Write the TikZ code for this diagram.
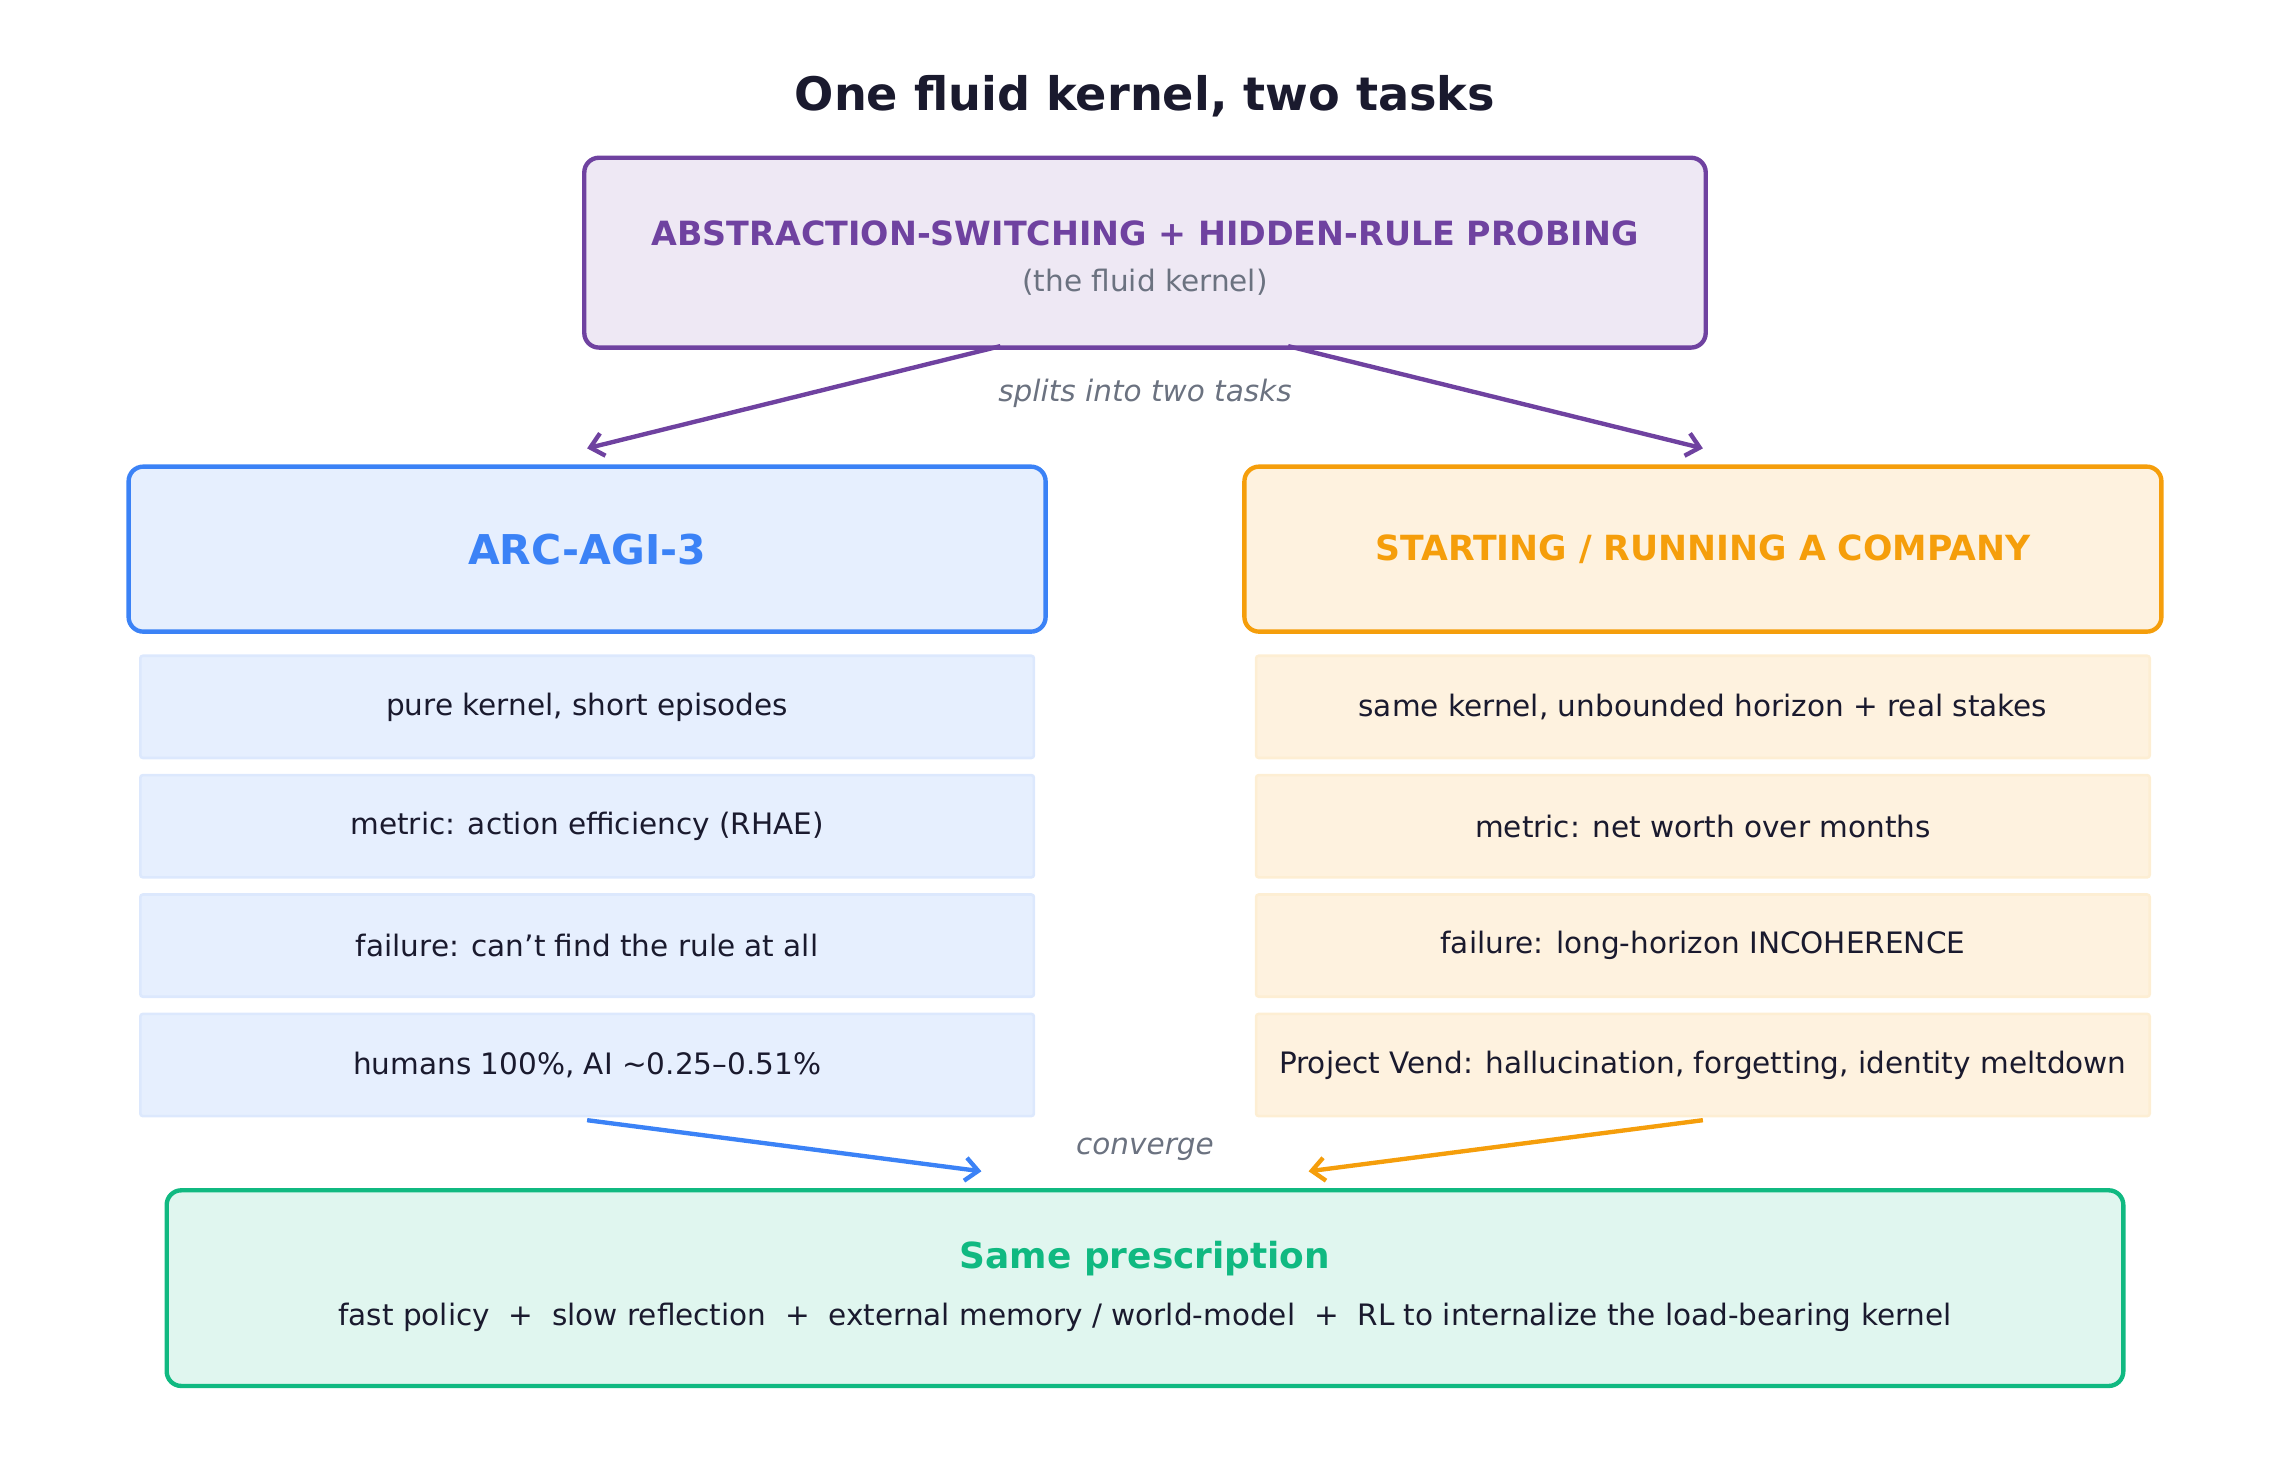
\documentclass[tikz,border=0pt]{standalone}
\usepackage{fontspec}
\setmainfont{DejaVu Sans}
\usetikzlibrary{arrows.meta,positioning}
\definecolor{ink}{HTML}{1A1A2E}
\definecolor{kgray}{HTML}{6B7280}
\definecolor{kpurple}{HTML}{6F42A0}
\definecolor{kblue}{HTML}{3B82F6}
\definecolor{korange}{HTML}{F59E0B}
\definecolor{kgreen}{HTML}{10B981}
\tikzset{
  >={Straight Barb[length=5pt,width=9pt]},
  panel/.style={
    rectangle,
    rounded corners=0.2cm,
    line width=1.7pt,
    text centered,
    align=center},
  item/.style={
    rectangle,
    rounded corners=1pt,
    line width=1pt,
    minimum width=12.24cm,
    minimum height=1.4cm,
    text=ink,
    font=\fontsize{11.5}{14}\selectfont},
  flow/.style={->, line width=1.7pt},
  note/.style={text=kgray, font=\fontsize{11.5}{14}\selectfont\itshape},
}
\begin{document}
\begin{tikzpicture}[x=0.02cm,y=-0.02cm]
  \useasboundingbox (0,0) rectangle (1568,1010);

  \node [text=ink, font=\fontsize{18}{22}\selectfont\bfseries] (title) at (784,66) {One fluid kernel, two tasks};

  \node [panel, draw=kpurple, fill=kpurple!12, minimum width=15.36cm, minimum height=2.6cm] (kernel) at (784,173) {};
  \node [text=kpurple, font=\fontsize{13}{16}\selectfont\bfseries] (kname) at (784,160) {ABSTRACTION-SWITCHING + HIDDEN-RULE PROBING};
  \node [text=kgray, font=\fontsize{11.5}{14}\selectfont] (ksub) at (784,193) {(the fluid kernel)};

  % two tasks
  \node [panel, draw=kblue, fill=kblue!13, minimum width=12.56cm, minimum height=2.26cm,
         text=kblue, font=\fontsize{16}{19}\selectfont\bfseries] (arc) at (402,376) {ARC-AGI-3};
  \node [panel, draw=korange, fill=korange!13, minimum width=12.56cm, minimum height=2.26cm,
         text=korange, font=\fontsize{13.5}{16}\selectfont\bfseries] (company) at (1166,376) {STARTING / RUNNING A COMPANY};

  \node [item, fill=kblue!13, draw=kblue!18] (arcA) at (402,484) {pure kernel, short episodes};
  \node [item, fill=kblue!13, draw=kblue!18, below=0.2cm of arcA] (arcB) {metric: action efficiency (RHAE)};
  \node [item, fill=kblue!13, draw=kblue!18, below=0.2cm of arcB] (arcC) {failure: can't find the rule at all};
  \node [item, fill=kblue!13, draw=kblue!18, below=0.2cm of arcC] (arcD) {humans 100\%, AI \textasciitilde0.25–0.51\%};

  \node [item, fill=korange!13, draw=korange!18] (coA) at (1166,484) {same kernel, unbounded horizon + real stakes};
  \node [item, fill=korange!13, draw=korange!18, below=0.2cm of coA] (coB) {metric: net worth over months};
  \node [item, fill=korange!13, draw=korange!18, below=0.2cm of coB] (coC) {failure: long-horizon INCOHERENCE};
  \node [item, fill=korange!13, draw=korange!18, below=0.2cm of coC] (coD) {Project Vend: hallucination, forgetting, identity meltdown};

  % prescription
  \node [panel, draw=kgreen, fill=kgreen!13, minimum width=26.8cm, minimum height=2.68cm] (rx) at (784,882) {};
  \node [text=kgreen, font=\fontsize{14}{17}\selectfont\bfseries] (rxname) at (784,862) {Same prescription};
  \node [text=ink, font=\fontsize{11.5}{14}\selectfont] (rxtext) at (784,902) {fast policy \ + \ slow reflection \ + \ external memory / world-model \ + \ RL to internalize the load-bearing kernel};

  \coordinate (splitL) at (685,237);
  \coordinate (splitR) at (882,237);
  \coordinate (inL) at (672,802);
  \coordinate (inR) at (896,802);
  \draw [flow, kpurple] (splitL) -- (arc.north |- 0,307);
  \draw [flow, kpurple] (splitR) -- (company.north |- 0,307);
  \node [note] (splitnote) at (784,269) {splits into two tasks};
  \draw [flow, kblue] (arcD.south |- 0,767) -- (inL);
  \draw [flow, korange] (coD.south |- 0,767) -- (inR);
  \node [note] (convnote) at (784,787) {converge};
\end{tikzpicture}
\end{document}
